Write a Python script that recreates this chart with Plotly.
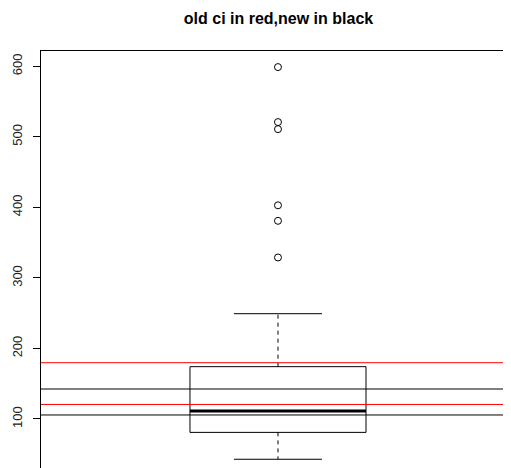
import plotly.graph_objects as go

# Box statistics
q1 = 81.0
median = 111.3
q3 = 174.2
lower_whisker = 42.9
upper_whisker = 249.3
outliers = [329, 381, 403, 511, 521, 599]

# Confidence interval lines
old_ci = [120.6, 179.8]   # red
new_ci = [105.7, 142.5]   # black

yticks = [100, 200, 300, 400, 500, 600]
title = "old ci in red,new in black"

pos = 1.0
hw = 0.2   # half box width
cw = 0.1   # half cap width

# page body has an 8px default margin; compensate so the figure fills the window
OFF = 8
W, H = 511 - OFF, 468 - OFF

fig = go.Figure()

# box
fig.add_trace(go.Scatter(
    x=[pos - hw, pos + hw, pos + hw, pos - hw, pos - hw],
    y=[q1, q1, q3, q3, q1], mode="lines",
    line=dict(color="black", width=1), hoverinfo="skip"))
# median
fig.add_trace(go.Scatter(
    x=[pos - hw, pos + hw], y=[median, median], mode="lines",
    line=dict(color="black", width=3), hoverinfo="skip"))
# whiskers (dashed)
fig.add_trace(go.Scatter(
    x=[pos, pos, None, pos, pos],
    y=[q3, upper_whisker, None, q1, lower_whisker], mode="lines",
    line=dict(color="black", width=1, dash="4px,4px"), hoverinfo="skip"))
# caps
fig.add_trace(go.Scatter(
    x=[pos - cw, pos + cw, None, pos - cw, pos + cw],
    y=[upper_whisker, upper_whisker, None, lower_whisker, lower_whisker],
    mode="lines", line=dict(color="black", width=1), hoverinfo="skip"))
# outliers
fig.add_trace(go.Scatter(
    x=[pos] * len(outliers), y=outliers, mode="markers",
    marker=dict(symbol="circle-open", size=7, color="black",
                line=dict(width=1, color="black")),
    hoverinfo="skip"))

for v in old_ci:
    fig.add_hline(y=v, line=dict(color="red", width=1))
for v in new_ci:
    fig.add_hline(y=v, line=dict(color="black", width=1))

fig.update_layout(
    width=W, height=H,
    margin=dict(l=41 - OFF, r=0, t=51 - OFF, b=0),
    paper_bgcolor="white", plot_bgcolor="white",
    showlegend=False,
    font=dict(family="Liberation Sans, Arial, sans-serif", color="black"),
    title=dict(text="<b>" + title + "</b>", x=(278.5 - OFF) / W, xref="container",
               xanchor="center", y=1 - (18 - OFF) / H, yref="container",
               yanchor="middle", font=dict(size=16, color="black")),
    xaxis=dict(range=[0.4615, 1.5295], showgrid=False, zeroline=False,
               showticklabels=False, ticks="", side="top",
               showline=True, linecolor="black", linewidth=1),
    yaxis=dict(range=[30.5, 621.8], showgrid=False, zeroline=False,
               tickvals=yticks, ticktext=[str(t) for t in yticks],
               ticks="outside", ticklen=7, tickcolor="black", tickwidth=1,
               tickangle=-90, tickfont=dict(size=13, color="#222222"),
               ticklabelstandoff=6,
               showline=True, linecolor="black", linewidth=1),
)

fig.write_html("out.html")
